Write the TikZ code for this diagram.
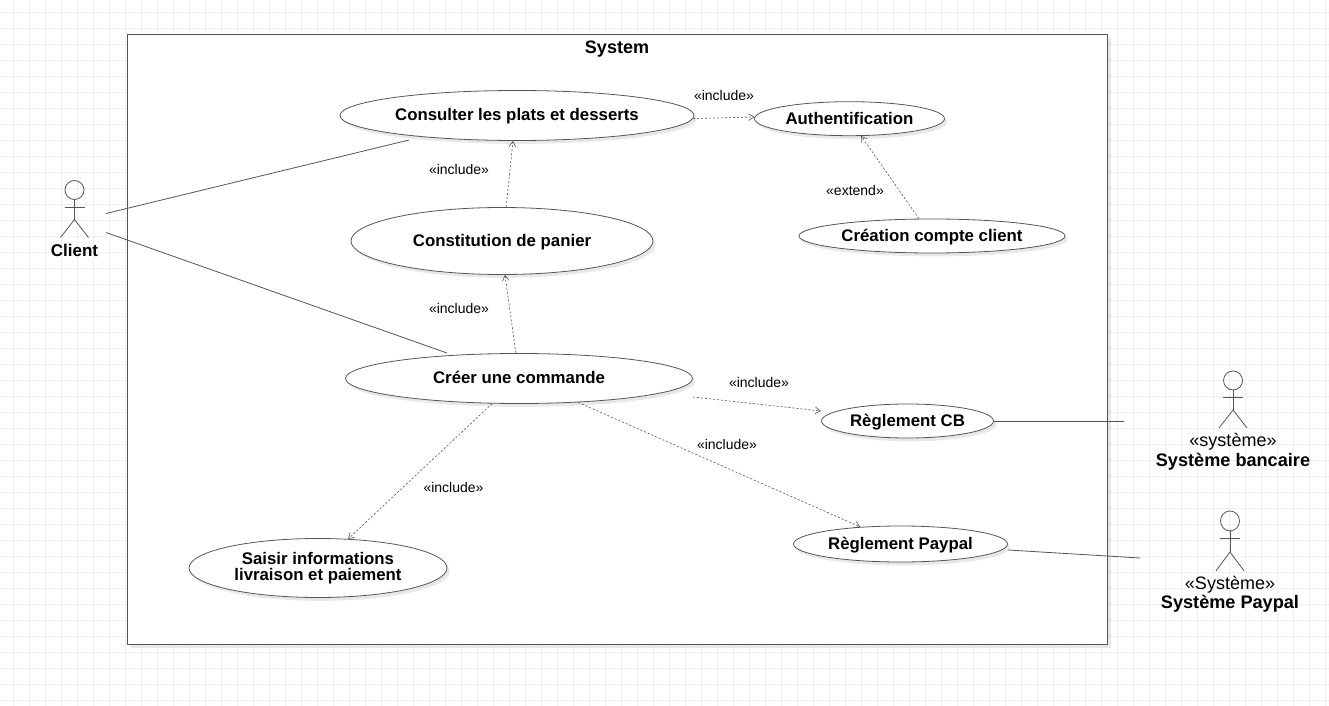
\documentclass[tikz,border=0pt]{standalone}
\usepackage{fontspec}
\setmainfont{Liberation Sans}
\usetikzlibrary{arrows.meta,shapes.geometric,shadows}
\definecolor{gridgray}{HTML}{EFEFEF}
\definecolor{linegray}{HTML}{555555}
\tikzset{
	usecase/.style={ellipse, draw=linegray, fill=white, line width=0.6pt, inner sep=0pt, align=center, font=\fontsize{12.6}{12.6}\selectfont\bfseries, drop shadow={shadow xshift=2pt, shadow yshift=-2.5pt, opacity=0.15, fill=black!60}},
	oneline/.style={usecase, text height=10.5pt, text depth=2.5pt},
	dep/.style={->, dashed, dash pattern=on 1.6pt off 1.4pt, line width=0.45pt, draw=linegray},
	assoc/.style={line width=0.6pt, draw=linegray},
	stereo/.style={font=\fontsize{10.5}{10.5}\selectfont},
	actorname/.style={align=center, font=\fontsize{13.6}{13.6}\selectfont\bfseries},
	actorrole/.style={font=\fontsize{13.5}{13.5}\selectfont},
	stickman/.pic={
		\draw[assoc] (0,9.5) circle[radius=9.5];
		\draw[assoc] (0,19) -- (0,39);
		\draw[assoc] (-10,26.5) -- (10,26.5);
		\draw[assoc] (-14,57) -- (0,39) -- (14,57);
	}
}
\begin{document}
\begin{tikzpicture}[x=0.75pt, y=-0.75pt, >={Straight Barb[length=4pt, width=5pt]}, line join=round]
	\useasboundingbox (0,0) rectangle (1329,706);

	% Fond quadrillé
	\fill[white] (0,0) rectangle (1329,706);
	\foreach \x in {0,...,82} {
		\draw[gridgray, line width=0.75pt] (13.5+16*\x, 0) -- (13.5+16*\x, 706);
	}
	\foreach \y in {0,...,43} {
		\draw[gridgray, line width=0.75pt] (0, 12.5+16*\y) -- (1329, 12.5+16*\y);
	}

	% Cadre du système
	\draw[assoc, fill=white, drop shadow={shadow xshift=2.5pt, shadow yshift=-2.5pt, opacity=0.15, fill=black!60}] (127.5,34.5) rectangle (1107.5,644.5);
	\node[font=\fontsize{13.5}{13.5}\selectfont\bfseries] (system) at (617,49) {System};

	% Cas d'utilisation
	\node[oneline, minimum width=265.5pt, minimum height=37.5pt] (consulter) at (517,115.5) {Consulter les plats et desserts};
	\node[oneline, minimum width=142.5pt, minimum height=25.5pt] (auth) at (849.5,118.7) {Authentification};
	\node[oneline, minimum width=226.5pt, minimum height=50.25pt] (panier) at (502,241) {Constitution de panier};
	\node[oneline, minimum width=199.5pt, minimum height=25.5pt] (creation) at (932,236) {Création compte client};
	\node[oneline, minimum width=260.25pt, minimum height=37.5pt] (commande) at (519,378.5) {Créer une commande};
	\node[oneline, minimum width=129pt, minimum height=25.5pt] (cb) at (907.5,421) {Règlement CB};
	\node[oneline, minimum width=160.5pt, minimum height=27pt] (paypal) at (900.5,544) {Règlement Paypal};
	\node[usecase, minimum width=193.5pt, minimum height=44.25pt] (saisir) at (318,568) {Saisir informations\\[-0.5pt]livraison et paiement};

	% Acteurs
	\pic at (74.5,180.5) {stickman};
	\pic at (1233,371) {stickman};
	\pic[yscale=1.05] at (1230,511) {stickman};
	\node[actorname, font=\fontsize{12.75}{12.75}\selectfont\bfseries] (client) at (74.5,250.5) {Client};
	\node[actorrole] (rolecb) at (1233,442) {«système»};
	\node[actorname] (bancaire) at (1233,462) {Système bancaire};
	\node[actorrole] (rolepaypal) at (1230,585) {«Système»};
	\node[actorname] (syspaypal) at (1230,604) {Système Paypal};

	% Extrémités libres des liens
	\coordinate (clienta) at (106,213.5);
	\coordinate (clientb) at (106,232.5);
	\coordinate (consultera) at (409,140);
	\coordinate (commandea) at (447,353);
	\coordinate (commandeb) at (693,397);
	\coordinate (cba) at (821,411);
	\coordinate (cbb) at (1124,421);
	\coordinate (paypala) at (1008,550);
	\coordinate (paypalb) at (1140,558);

	% Associations
	\draw[assoc] (clienta) -- (consultera);
	\draw[assoc] (clientb) -- (commandea);
	\draw[assoc] (cb.east) -- (cbb);
	\draw[assoc] (paypala) -- (paypalb);

	% Dépendances
	\draw[dep] (consulter.359.5) -- (auth.179);
	\draw[dep] (panier.83) -- (consulter.261);
	\draw[dep] (commande.97) -- (panier.275);
	\draw[dep] (creation.127) -- (auth.304);
	\draw[dep] (commandeb) -- (cba);
	\draw[dep] (commande.338) -- (paypal.157.6);
	\draw[dep] (commande.223) -- (saisir.44);

	% Stéréotypes
	\foreach \n/\px/\py/\txt in {a/724/95/include, b/459/169/include, c/459/308/include, d/759/382/include, e/727/444/include, f/453.5/487/include, g/855/190/extend} {
		\node[stereo] (label\n) at (\px,\py) {«\txt»};
	}
\end{tikzpicture}
\end{document}
